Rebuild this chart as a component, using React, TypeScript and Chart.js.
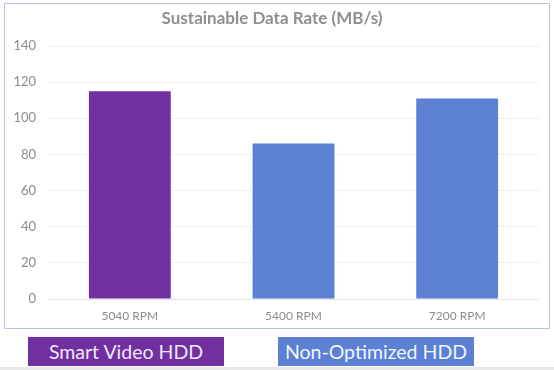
import React, { useEffect, useRef } from "react";
import { Chart, registerables } from "chart.js";

Chart.register(...registerables);

const categories = ["5040 RPM", "5400 RPM", "7200 RPM"];
const values = [115, 86, 111];
const barColors = ["#7030a0", "#5b80d4", "#5b80d4"];
const legendItems = ["Smart Video HDD", "Non-Optimized HDD"];
const legendColors = ["#7030a0", "#5b80d4"];
const titleText = "Sustainable Data Rate (MB/s)";

export default function App() {
  const ref = useRef<HTMLCanvasElement | null>(null);

  useEffect(() => {
    if (!ref.current) return;
    const chart = new Chart(ref.current, {
      type: "bar",
      data: {
        labels: categories,
        datasets: [
          {
            data: values,
            backgroundColor: barColors,
            borderWidth: 0,
            barPercentage: 0.5,
            categoryPercentage: 1,
          },
        ],
      },
      options: {
        animation: false,
        responsive: false,
        maintainAspectRatio: false,
        layout: { padding: { left: 0, right: 10, top: 0, bottom: 0 } },
        plugins: {
          legend: { display: false },
          tooltip: { enabled: false },
          title: {
            display: true,
            text: titleText,
            color: "#8f8f8f",
            font: { family: "Lato", size: 17, weight: "bold" },
            padding: { top: 4, bottom: 17.6 },
          },
        },
        scales: {
          x: {
            grid: { display: false, drawTicks: false },
            border: { display: false },
            ticks: {
              color: "#8c8c8c",
              font: { family: "Lato", size: 12 },
              padding: 10,
            },
            afterFit: (s: any) => {
              s.height = 29;
            },
          },
          y: {
            min: 0,
            max: 140,
            ticks: {
              stepSize: 20,
              color: "#8c8c8c",
              font: { family: "Lato", size: 13 },
              padding: 12,
            },
            grid: {
              drawTicks: false,
              color: (ctx: any) => (ctx.tick && ctx.tick.value === 0 ? "#e2e2e2" : "#efefef"),
              lineWidth: 1,
            },
            border: { display: false },
            afterFit: (s: any) => {
              s.width = 43;
            },
          },
        },
      },
    });
    return () => chart.destroy();
  }, []);

  return (
    <div
      style={{
        position: "fixed",
        left: 0,
        top: 0,
        width: 554,
        height: 370,
        background: "#ffffff",
        overflow: "hidden",
        fontFamily: "Lato, sans-serif",
      }}
    >
      <div
        style={{
          position: "absolute",
          left: 4,
          top: 3,
          width: 544,
          height: 324,
          border: "1px solid #b9c5d8",
        }}
      >
        <canvas ref={ref} width={544} height={324} style={{ display: "block" }} />
      </div>
      {legendItems.map((t, i) => (
        <div
          key={t}
          style={{
            position: "absolute",
            left: i === 0 ? 28 : 278,
            top: 337,
            width: 196,
            height: 29,
            background: legendColors[i],
            color: i === 0 ? "#f3e6ff" : "#f2f6ff",
            fontSize: 19.5,
            lineHeight: "29px",
            textAlign: "center",
            whiteSpace: "nowrap",
          }}
        >
          {t}
        </div>
      ))}
      <div
        style={{
          position: "absolute",
          left: 0,
          top: 367,
          width: 554,
          height: 3,
          background: "#e9e9e9",
        }}
      />
    </div>
  );
}
